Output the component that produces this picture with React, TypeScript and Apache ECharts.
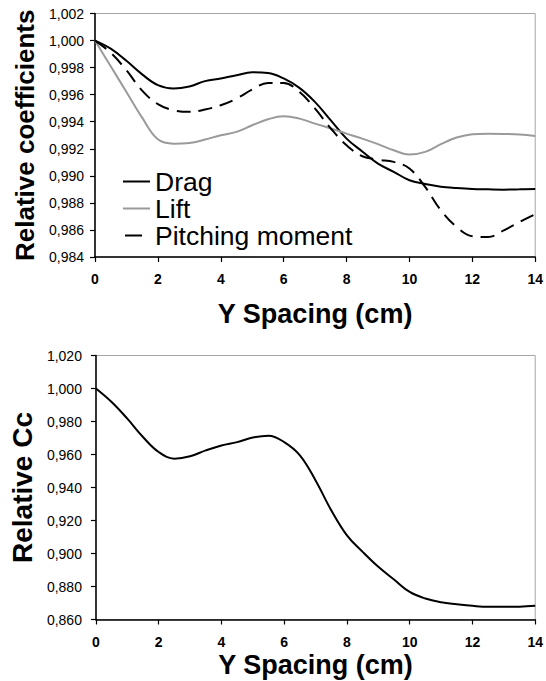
import React, { useEffect, useRef } from "react";
import * as echarts from "echarts";

// Y spacing (cm)
const xValues = [0, 0.5, 1, 1.5, 2, 2.5, 3, 3.5, 4, 4.5, 5, 5.5, 6, 6.5, 7, 7.5, 8, 8.5, 9, 9.5, 10, 10.5, 11, 11.5, 12, 12.5, 13, 13.5, 14];

const dragValues = [1.0, 0.9994, 0.9985, 0.9975, 0.9967, 0.99645, 0.9966, 0.997, 0.9972, 0.99744, 0.99765, 0.9976, 0.9972, 0.9965, 0.99545, 0.9941, 0.99275, 0.9918, 0.9909, 0.9903, 0.98967, 0.9894, 0.9892, 0.9891, 0.98903, 0.989, 0.98898, 0.989, 0.98903];

const liftValues = [1.0, 0.9981, 0.9962, 0.9943, 0.9927, 0.99238, 0.99243, 0.99268, 0.993, 0.99325, 0.99374, 0.99418, 0.9944, 0.99423, 0.99386, 0.9935, 0.99312, 0.99275, 0.99234, 0.99189, 0.99157, 0.99177, 0.99234, 0.99283, 0.99308, 0.99312, 0.9931, 0.99305, 0.99295];

const pitchingValues = [1.0, 0.9991, 0.9978, 0.9963, 0.9953, 0.99485, 0.99473, 0.9949, 0.99522, 0.99571, 0.99638, 0.99687, 0.99687, 0.99621, 0.99497, 0.9935, 0.99226, 0.99145, 0.9912, 0.99103, 0.99054, 0.98918, 0.98745, 0.98622, 0.98553, 0.98548, 0.98597, 0.98659, 0.98716];

const ccValues = [1.0, 0.9918, 0.9817, 0.9706, 0.9615, 0.9575, 0.9589, 0.9625, 0.9655, 0.9675, 0.9703, 0.9714, 0.9675, 0.9595, 0.9443, 0.9262, 0.911, 0.901, 0.8919, 0.8842, 0.8767, 0.8727, 0.8705, 0.8693, 0.8683, 0.8677, 0.8677, 0.8678, 0.8683];

const seriesNames = ["Drag", "Lift", "Pitching moment"];
const xTitle = "Y Spacing (cm)";
const yTitleTop = "Relative coefficients";
const yTitleBottom = "Relative Cc";

const topRange = { min: 0.984, max: 1.002, interval: 0.002 };
const bottomRange = { min: 0.86, max: 1.02, interval: 0.02 };
const xRange = { min: 0, max: 14, interval: 2 };

const FONT = "Liberation Sans, Arial, Helvetica, sans-serif";

const pairs = (ys: number[]) => xValues.map((x, i) => [x, ys[i]]);

export default function App() {
  const ref = useRef<HTMLDivElement>(null);

  useEffect(() => {
    if (!ref.current) return;
    const chart = echarts.init(ref.current, null, { renderer: "svg" });

    const axisLine = { show: true, lineStyle: { color: "#000", width: 1.5 } };
    const axisTick = { show: true, inside: false, length: 5, lineStyle: { color: "#000", width: 1.2 } };
    const fmt = (v: number) => v.toFixed(3).replace(".", ",");

    const xAxisBase = (gridIndex: number, gap: number) => ({
      type: "value",
      gridIndex,
      min: xRange.min,
      max: xRange.max,
      interval: xRange.interval,
      axisLine,
      axisTick,
      splitLine: { show: false },
      axisLabel: { fontFamily: FONT, fontSize: 14, fontWeight: "bold", color: "#000", margin: 15 },
      name: xTitle,
      nameLocation: "middle",
      nameGap: gap,
      nameTextStyle: { fontFamily: FONT, fontSize: 27, fontWeight: "bold", color: "#000", lineHeight: 27 },
    });

    const yAxisBase = (gridIndex: number, range: any, name: string, size: number, gap: number, margin: number) => ({
      type: "value",
      gridIndex,
      min: range.min,
      max: range.max,
      interval: range.interval,
      axisLine,
      axisTick,
      splitLine: { show: false },
      axisLabel: { fontFamily: FONT, fontSize: 14, color: "#000", margin, formatter: fmt },
      name,
      nameLocation: "middle",
      nameRotate: 90,
      nameGap: gap,
      nameTextStyle: { fontFamily: FONT, fontSize: size, fontWeight: "bold", color: "#000", lineHeight: size },
    });

    const lineSeries = (name: string, data: number[], color: string, dashed: boolean, idx: number) => ({
      name,
      type: "line",
      xAxisIndex: idx,
      yAxisIndex: idx,
      data: pairs(data),
      smooth: 0.4,
      symbol: "none",
      lineStyle: { color, width: 2, type: dashed ? [14, 8] : "solid" },
      itemStyle: { color },
    });

    chart.setOption({
      animation: false,
      backgroundColor: "#fff",
      grid: [
        { left: 95, width: 443, top: 13.5, height: 243.5, show: true, borderColor: "#a6a6a6", borderWidth: 1, containLabel: false },
        { left: 86, width: 452, top: 355.5, height: 264, show: true, borderColor: "#a6a6a6", borderWidth: 1, containLabel: false },
      ],
      legend: {
        orient: "vertical",
        left: 123,
        top: 168,
        padding: 0,
        itemGap: 0,
        itemWidth: 27,
        itemHeight: 2,
        icon: "rect",
        textStyle: { fontFamily: FONT, fontSize: 26.5, color: "#000", lineHeight: 25.7 },
        data: [
          { name: seriesNames[0] },
          { name: seriesNames[1] },
          { name: seriesNames[2], icon: "path://M0,0M27,2M2,0H19V2H2Z" },
        ],
      },
      xAxis: [xAxisBase(0, 43), xAxisBase(1, 32)],
      yAxis: [
        yAxisBase(0, topRange, yTitleTop, 26, 57, 11),
        yAxisBase(1, bottomRange, yTitleBottom, 28, 51, 14),
      ],
      series: [
        lineSeries(seriesNames[0], dragValues, "#000", false, 0),
        lineSeries(seriesNames[1], liftValues, "#9a9a9a", false, 0),
        lineSeries(seriesNames[2], pitchingValues, "#000", true, 0),
        { ...lineSeries("Cc", ccValues, "#000", false, 1) },
      ],
    });

    return () => chart.dispose();
  }, []);

  return (
    <div
      ref={ref}
      style={{ position: "fixed", left: 0, top: 0, width: 546, height: 681, background: "#fff" }}
    />
  );
}
